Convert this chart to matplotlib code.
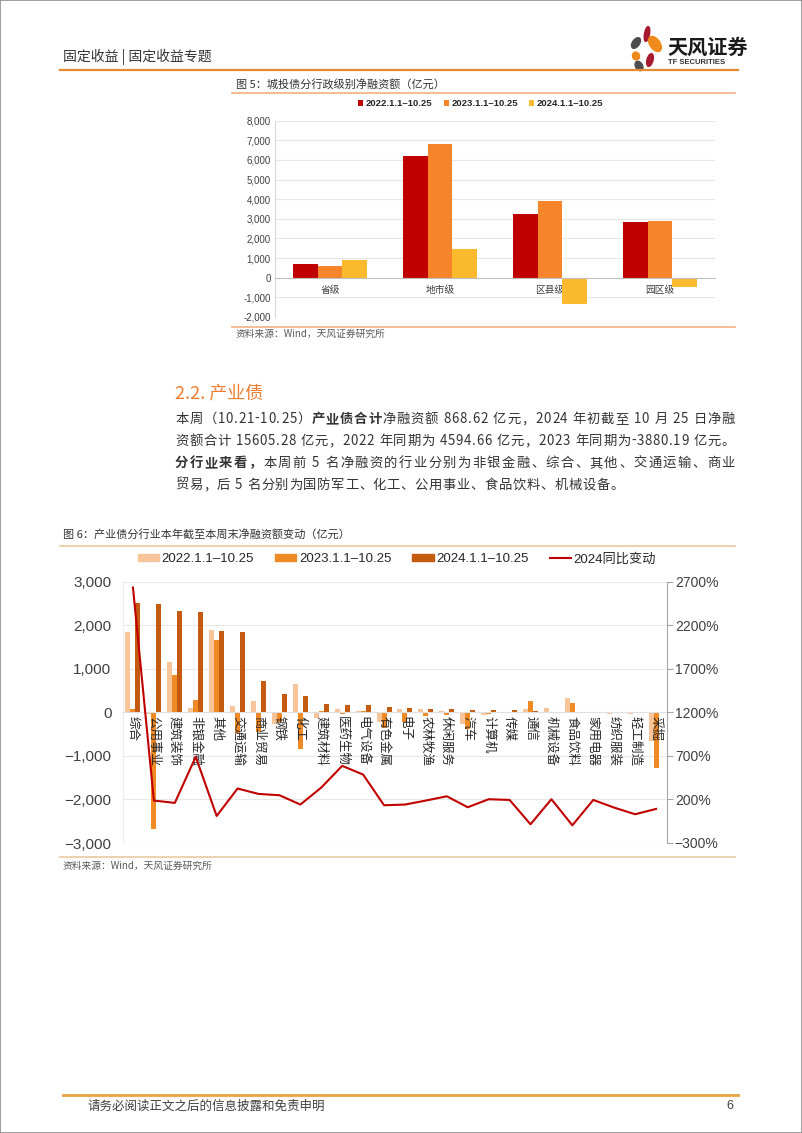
import matplotlib
matplotlib.use('Agg')
import matplotlib.pyplot as plt
from matplotlib.patches import Ellipse, Rectangle
from matplotlib.lines import Line2D
import numpy as np

plt.rcParams['font.family'] = ['Liberation Sans', 'Noto Sans CJK SC', 'DejaVu Sans']
CJK = ['Noto Sans CJK SC', 'DejaVu Sans']

W, H = 802, 1133

# ---- figure 5 data: LGFV bonds by admin level (亿元)
levels = ['省级', '地市级', '区县级', '园区级']
lgfv_2022 = [712, 6203, 3271, 2826]
lgfv_2023 = [610, 6814, 3898, 2910]
lgfv_2024 = [881, 1441, -1356, -457]
period_labels = ['2022.1.1–10.25', '2023.1.1–10.25', '2024.1.1–10.25']

# ---- figure 6 data: industrial bonds by industry (亿元) and 2024 yoy change (%)
industries = ['综合', '公用事业', '建筑装饰', '非银金融', '其他', '交通运输', '商业贸易',
              '钢铁', '化工', '建筑材料', '医药生物', '电气设备', '有色金属', '电子',
              '农林牧渔', '休闲服务', '汽车', '计算机', '传媒', '通信', '机械设备',
              '食品饮料', '家用电器', '纺织服装', '轻工制造', '采掘']
ind_2022 = [1831, -40, 1142, 100, 1877, 153, 260, -275, 644, -123, 69, 23, -230,
            77, 69, 38, -260, -54, -23, 84, 92, 337, 5, -38, -30, -659]
ind_2023 = [84, -2674, 866, 284, 1648, -480, -452, -222, -835, 38, -30, 23, -360,
            -222, -84, -54, -375, -38, -10, 253, 5, 215, 0, -15, 0, -1280]
ind_2024 = [2506, 2490, 2330, 2291, 1862, 1847, 713, 414, 375, 192, 161, 161, 115,
            92, 77, 69, 46, 46, 46, 38, 8, 6, 4, 3, 2, -10]
yoy_2024 = [2631, 187, 160, 689, 10, 325, 263, 248, 141, 336, 585, 485, 133,
            141, 187, 236, 110, 202, 194, -85, 202, -97, 194, 106, 30, 91]


def fx(x):
    return x / W


def fy(y):
    return 1 - y / H


fig = plt.figure(figsize=(W / 100, H / 100), dpi=100)

# page border
fig.add_artist(Rectangle((0, 0), 1, 1, transform=fig.transFigure, fill=False,
                         edgecolor='#8c8c8c', linewidth=1.2))

# ---------------- header ----------------
fig.text(fx(63), fy(57), '固定收益 | 固定收益专题', fontsize=10, color='#333333',
         family=CJK, va='center', ha='left')
fig.add_artist(Line2D([fx(60), fx(738)], [fy(70), fy(70)], color='#E8892E', lw=1.6))

# logo petals
logo = fig.add_axes([fx(624), fy(73), fx(44), (73 - 24) / H])
logo.set_xlim(0, 44)
logo.set_ylim(49, 0)
logo.axis('off')
for (cx, cy, w, h, ang, col) in [(23, 10, 5, 15, 10, '#A6192E'),
                                 (31, 20, 10, 17, -35, '#F08A1C'),
                                 (12, 19, 7, 12, 35, '#4D4D4D'),
                                 (12, 32, 7, 8, -20, '#F08A1C'),
                                 (26, 36, 6, 13, 15, '#A6192E'),
                                 (15, 42, 7, 10, -30, '#4D4D4D')]:
    logo.add_patch(Ellipse((cx, cy), w, h, angle=ang, color=col))
fig.text(fx(667), fy(47), '天风证券', fontsize=14.5, fontweight='bold', color='#1a1a1a',
         family=CJK, va='center', ha='left')
fig.text(fx(668), fy(63), 'TF SECURITIES', fontsize=5.5, fontweight='bold', color='#333333',
         va='center', ha='left')

# ---------------- figure 5 ----------------
fig.text(fx(236), fy(84), '图 5：城投债分行政级别净融资额（亿元）', fontsize=8, color='#333333',
         family=CJK, va='center', ha='left')
fig.add_artist(Line2D([fx(232), fx(735)], [fy(93), fy(93)], color='#F4B183', lw=1.2))

ax5 = fig.add_axes([fx(275), fy(317), fx(715 - 275), (317 - 120.7) / H])
ax5.spines['bottom'].set_position(('data', 0))
c5 = ['#C00000', '#F5842A', '#FBBA2E']
x5 = np.arange(len(levels))
bw5 = 0.223
for k, vals in enumerate([lgfv_2022, lgfv_2023, lgfv_2024]):
    ax5.bar(x5 + (k - 1) * bw5, vals, width=bw5, color=c5[k], label=period_labels[k], zorder=2)
ax5.set_ylim(-2000, 8000)
ax5.set_xlim(-0.5, len(levels) - 0.5)
ticks5 = np.arange(-2000, 8001, 1000)
for t in ticks5:
    if t != 0:
        ax5.axhline(t, color='#E6E6E6', lw=0.8, zorder=0.5)
ax5.set_yticks(ticks5)
ax5.set_yticklabels([f'{t:,}' for t in ticks5], fontsize=7, color='#404040')
ax5.set_xticks(x5)
ax5.set_xticklabels(levels, fontsize=7, color='#404040', family=CJK)
ax5.spines['bottom'].set_color('#BFBFBF')
ax5.spines['left'].set_color('#D9D9D9')
ax5.spines['top'].set_visible(False)
ax5.spines['right'].set_visible(False)
ax5.tick_params(axis='both', length=0, pad=3)
ax5.tick_params(axis='x', pad=5)
ax5.legend(loc='center', bbox_to_anchor=(fx(481), fy(104)), bbox_transform=fig.transFigure,
           ncol=3, frameon=False, prop={'size': 6.8, 'weight': 'bold'}, handlelength=0.5,
           handleheight=0.5, handletextpad=0.3, columnspacing=1.2, labelcolor='#262626')

fig.add_artist(Line2D([fx(232), fx(735)], [fy(327), fy(327)], color='#F4B183', lw=1.2))
fig.text(fx(236), fy(334), '资料来源：Wind，天风证券研究所', fontsize=7, color='#595959',
         family=CJK, va='center', ha='left')

# ---------------- section text ----------------
fig.text(fx(175), fy(393), '2.2. 产业债', fontsize=13, color='#ED7D31', family=CJK,
         va='center', ha='left')

para = [
    ([('本周（10.21-10.25）', False), ('产业债合计', True),
      ('净融资额 868.62 亿元，2024 年初截至 10 月 25 日净融', False)], True),
    ([('资额合计 15605.28 亿元，2022 年同期为 4594.66 亿元，2023 年同期为-3880.19 亿元。', False)], True),
    ([('分行业来看，', True), ('本周前 5 名净融资的行业分别为非银金融、综合、其他、交通运输、商业', False)], True),
    ([('贸易，后 5 名分别为国防军工、化工、公用事业、食品饮料、机械设备。', False)], False),
]
renderer = fig.canvas.get_renderer()
x_left, x_right = 175, 735
for i, (runs, justify) in enumerate(para):
    y = 419 + 22 * i
    chars = [(ch, b) for s, b in runs for ch in s]
    texts, widths = [], []
    for ch, b in chars:
        t = fig.text(0, 0, ch, fontsize=9.6, fontweight='bold' if b else 'normal',
                     color='#333333', family=CJK, va='center', ha='left')
        texts.append(t)
        if ch == ' ':
            widths.append(3.5)
        else:
            widths.append(t.get_window_extent(renderer).width)
    gap = (x_right - x_left - sum(widths)) / (len(chars) - 1) if justify else 0.6
    x = x_left
    for t, w in zip(texts, widths):
        t.set_position((fx(x), fy(y)))
        x += w + gap

# ---------------- figure 6 ----------------
fig.text(fx(63), fy(534), '图 6：产业债分行业本年截至本周末净融资额变动（亿元）', fontsize=8,
         color='#333333', family=CJK, va='center', ha='left')
fig.add_artist(Line2D([fx(60), fx(735)], [fy(546), fy(546)], color='#E9C9A0', lw=1.2))

ax6 = fig.add_axes([fx(122.5), fy(843), fx(666.5 - 122.5), (843 - 581.5) / H])
ax6.spines['bottom'].set_position(('data', 0))
c6 = ['#F8C49A', '#F08A24', '#C55A11']
x6 = np.arange(len(industries))
bw6 = 0.24
for k, vals in enumerate([ind_2022, ind_2023, ind_2024]):
    ax6.bar(x6 + (k - 1) * bw6, vals, width=bw6, color=c6[k], zorder=1)
ax6.set_ylim(-3000, 3000)
ax6.set_xlim(-0.5, len(industries) - 0.5)
ticks6 = np.arange(-3000, 3001, 1000)
for t in ticks6:
    ax6.axhline(t, color='#E8E8E8', lw=0.8, zorder=0.5)
ax6.set_yticks(ticks6)
ax6.set_yticklabels([f'{t:,}'.replace('-', '−') for t in ticks6], fontsize=11, color='#404040')
ax6.set_xticks(x6)
ax6.set_xticklabels(industries, fontsize=9, color='#262626', family=CJK, rotation=-90)
ax6.spines['bottom'].set_color('#E0E0E0')
ax6.spines['left'].set_color('#EDEDED')
ax6.spines['top'].set_visible(False)
ax6.spines['right'].set_visible(False)
ax6.tick_params(axis='both', length=0)
ax6.tick_params(axis='y', pad=8)
ax6.tick_params(axis='x', pad=3)

ax6r = ax6.twinx()
ax6r.plot(x6, yoy_2024, color='#C00000', lw=1.5, zorder=3)
ax6r.set_ylim(-300, 2700)
rt = np.arange(-300, 2701, 500)
ax6r.set_yticks(rt)
ax6r.set_yticklabels([f'{t}%'.replace('-', '−') for t in rt], fontsize=10, color='#404040')
for s in ['left', 'top', 'bottom']:
    ax6r.spines[s].set_visible(False)
ax6r.spines['right'].set_color('#A6A6A6')
ax6r.tick_params(axis='y', length=4, color='#A6A6A6', pad=2)

handles = [Rectangle((0, 0), 1, 1, color=c) for c in c6] + [Line2D([], [], color='#C00000', lw=1.5)]
labels6 = period_labels + ['2024同比变动']
fig.legend(handles, labels6, loc='center', bbox_to_anchor=(fx(397), fy(559)), ncol=4,
           frameon=False, fontsize=9.5, handlelength=1.6, handleheight=0.45,
           handletextpad=0.2, columnspacing=1.6, labelcolor='#262626')

fig.add_artist(Line2D([fx(60), fx(735)], [fy(857), fy(857)], color='#E9C9A0', lw=1.2))
fig.text(fx(63), fy(866), '资料来源：Wind，天风证券研究所', fontsize=7, color='#595959',
         family=CJK, va='center', ha='left')

# ---------------- footer ----------------
fig.add_artist(Line2D([fx(63), fx(738)], [fy(1095), fy(1095)], color='#E8A33D', lw=2))
fig.text(fx(88), fy(1106), '请务必阅读正文之后的信息披露和免责申明', fontsize=9, color='#404040',
         family=CJK, va='center', ha='left')
fig.text(fx(733), fy(1106), '6', fontsize=9, color='#404040', va='center', ha='right')

fig.savefig('out.png', dpi=100)
